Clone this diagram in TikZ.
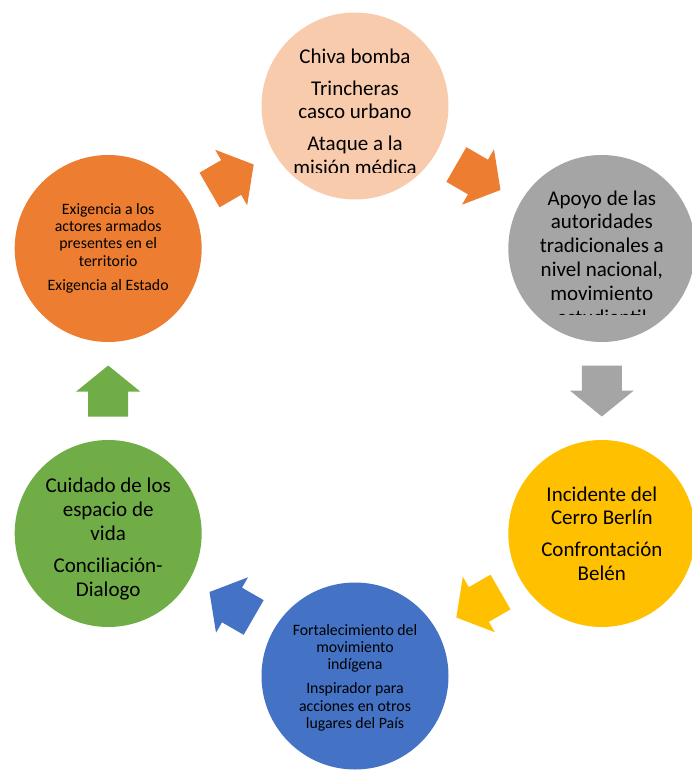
\documentclass[tikz,border=0pt]{standalone}
\usepackage{fontspec}
\setmainfont{Carlito}
\usetikzlibrary{calc}
\definecolor{peach}{HTML}{F8CBAD}
\definecolor{orangec}{HTML}{ED7D31}
\definecolor{grayc}{HTML}{A5A5A5}
\definecolor{goldc}{HTML}{FFC000}
\definecolor{bluec}{HTML}{4472C4}
\definecolor{greenc}{HTML}{70AD47}
\newcommand{\bigtxt}{\fontsize{21}{23.8}\selectfont}
\newcommand{\smalltxt}{\fontsize{15.8}{17.4}\selectfont}

\begin{document}
\begin{tikzpicture}[x=1pt,y=-1pt,
  stage/.style={circle,inner sep=0pt,minimum size=187pt},
  stagetext/.style={anchor=base,align=center,inner sep=0pt,text=black}]
  \useasboundingbox (0,0) rectangle (692,771);
  \clip (0,0) rectangle (692,771);
  \coordinate (ctr) at (355,391);
  % six stages round the cycle
  \foreach \nm/\ang/\col in {chiva/-90/peach, apoyo/-30/grayc, cerro/30/goldc,
      fortal/90/bluec, cuidado/150/greenc, exig/210/orangec}
    \node[stage,fill=\col] (\nm) at ($(ctr)+(\ang:285)$) {};
  % block arrows between neighbours
  \foreach \a/\b/\rot/\col in {chiva/apoyo/-30/orangec, apoyo/cerro/-90/grayc,
      cerro/fortal/-150/goldc, fortal/cuidado/150/bluec, cuidado/exig/90/greenc,
      exig/chiva/30/orangec}
    \fill[\col,shift={($(\a.center)!0.5!(\b.center)$)},rotate=\rot]
      (-25.5,-20) -- (-0.5,-20) -- (-0.5,-32) -- (25.5,0) -- (-0.5,32) -- (-0.5,20) -- (-25.5,20) -- cycle;
  % texts (base = last line), cut to the square inside each circle
  \begin{scope}
    \clip ($(chiva)+(-66,-66)$) rectangle ($(chiva)+(66,66)$);
    \node[stagetext,font=\bigtxt] (chiva-t) at ($(chiva)+(0,68.6)$)
      {Chiva bomba\\[8.2pt]Trincheras\\casco urbano\\[8.2pt]Ataque a la\\misión médica};
  \end{scope}
  \begin{scope}
    \clip ($(apoyo)+(-66,-66)$) rectangle ($(apoyo)+(66,66)$);
    \node[stagetext,font=\bigtxt] (apoyo-t) at ($(apoyo)+(0,75.5)$)
      {Apoyo de las\\autoridades\\tradicionales a\\nivel nacional,\\movimiento\\estudiantil};
  \end{scope}
  \node[stagetext,font=\bigtxt] (cerro-t) at ($(cerro)+(0,47.1)$)
    {Incidente del\\Cerro Berlín\\[8.2pt]Confrontación\\Belén};
  \node[stagetext,font=\smalltxt] (fortal-t) at ($(fortal)+(0,52.6)$)
    {Fortalecimiento del\\movimiento\\indígena\\[6.6pt]Inspirador para\\acciones en otros\\lugares del País};
  \node[stagetext,font=\bigtxt] (cuidado-t) at ($(cuidado)+(0,62.6)$)
    {Cuidado de los\\espacio de\\vida\\[8.2pt]Conciliación-\\Dialogo};
  \node[stagetext,font=\smalltxt] (exig-t) at ($(exig)+(0,41.7)$)
    {Exigencia a los\\actores armados\\presentes en el\\territorio\\[6.6pt]Exigencia al Estado};
\end{tikzpicture}
\end{document}
